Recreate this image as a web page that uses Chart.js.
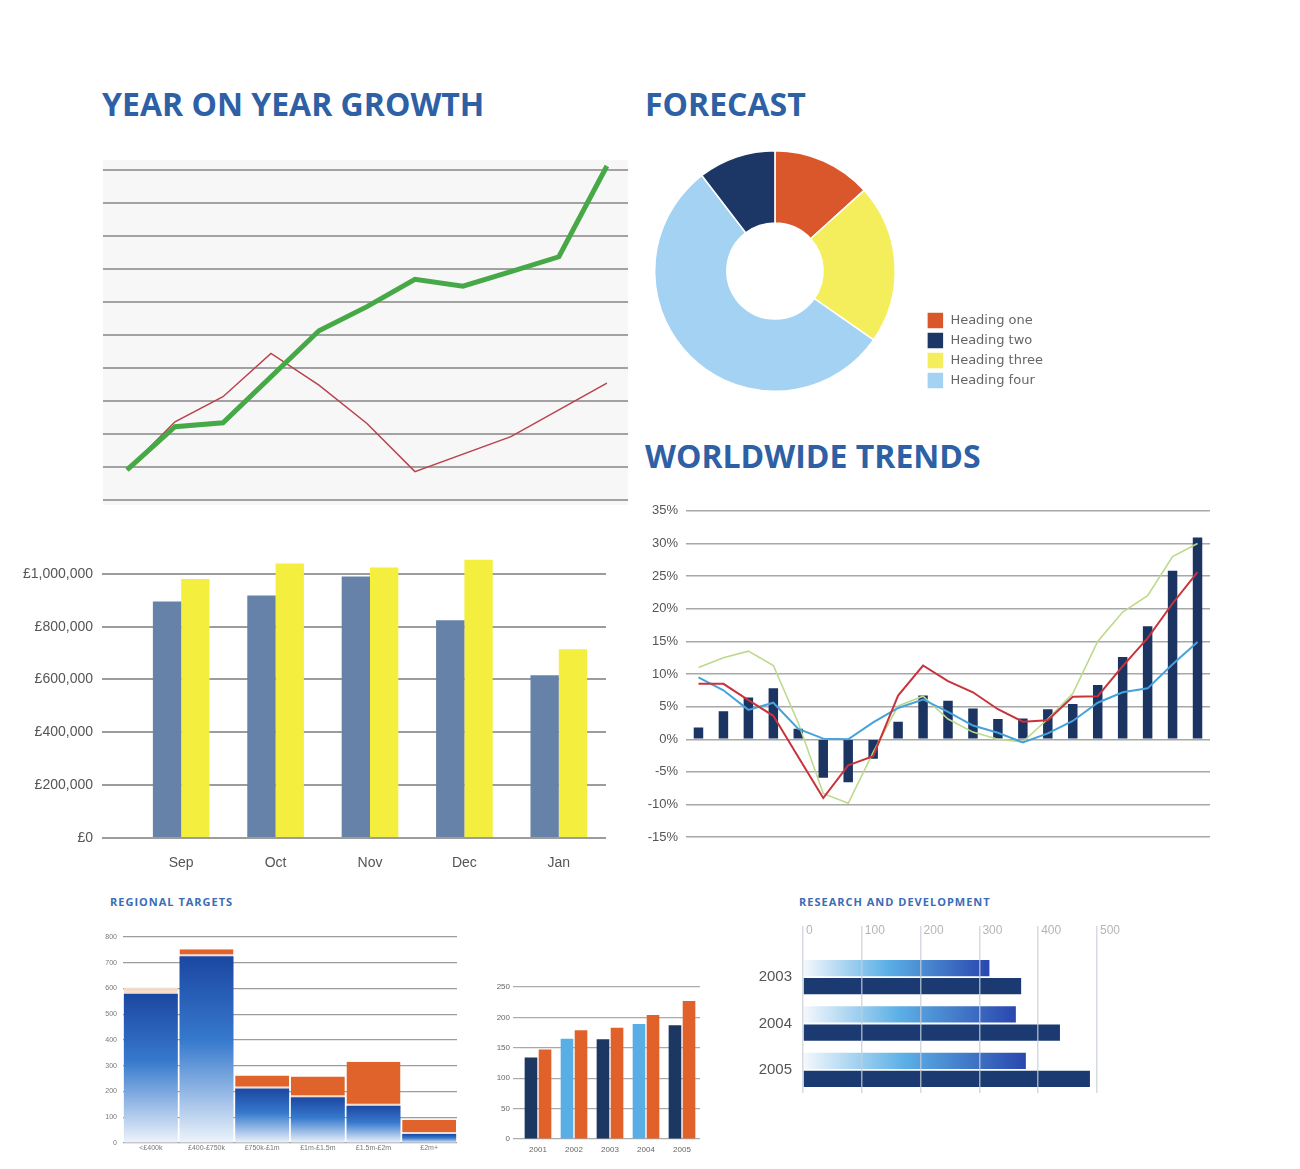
<!DOCTYPE html>
<html>
<head>
<meta charset="utf-8">
<title>Business charts</title>
<style>
html, body { margin: 0; padding: 0; background: #fff; }
#page { position: relative; width: 1300px; height: 1169px; overflow: hidden; }
.box { position: absolute; }
.big { position: absolute; font: 700 32px 'Open Sans'; line-height: 32px; color: #2d60a4; white-space: nowrap; }
.small { position: absolute; font: 700 11px 'Open Sans'; line-height: 11px; color: #3a6db5; letter-spacing: 1px; white-space: nowrap; }
</style>
</head>
<body>
<div id="page">
  <div class="big" style="left:102px; top:88px;">YEAR ON YEAR GROWTH</div>
  <div class="big" style="left:645px; top:88px;">FORECAST</div>
  <div class="big" style="left:645px; top:440px;">WORLDWIDE TRENDS</div>
  <div class="small" style="left:110px; top:896px;">REGIONAL TARGETS</div>
  <div class="small" style="left:799px; top:896px;">RESEARCH AND DEVELOPMENT</div>

  <div class="box" style="left:103px; top:160px; width:525px; height:345px; background:#f7f7f7;"><canvas id="growth"></canvas></div>
  <div class="box" style="left:626px; top:150px; width:427px; height:242px;"><canvas id="forecast"></canvas></div>
  <div class="box" style="left:640px; top:495px; width:585px; height:358px;"><canvas id="trends"></canvas></div>
  <div class="box" style="left:0px; top:530px; width:620px; height:350px;"><canvas id="months"></canvas></div>
  <div class="box" style="left:100px; top:925px; width:365px; height:235px;"><canvas id="regional"></canvas></div>
  <div class="box" style="left:480px; top:975px; width:235px; height:185px;"><canvas id="yearly"></canvas></div>
  <div class="box" style="left:750px; top:915px; width:380px; height:190px;"><canvas id="research"></canvas></div>
</div>

<script src="https://cdn.jsdelivr.net/npm/chart.js"></script>
<script>
  // year on year growth (x = step along the axis)
  const growthX = [0, 1, 2, 4, 5, 6, 7, 8, 9, 10];
  const growthGreen = [0.91, 2.22, 2.34, 5.13, 5.86, 6.69, 6.48, 6.92, 7.37, 10.12];
  const redX = [0, 1, 2, 3, 4, 5, 6, 8, 9, 10];
  const growthRed = [0.91, 2.37, 3.13, 4.44, 3.48, 2.32, 0.86, 1.92, 2.73, 3.54];

  // forecast
  const forecastLabels = ['Heading one', 'Heading two', 'Heading three', 'Heading four'];
  const forecastValues = [13.3, 10.4, 21.4, 54.9];
  const forecastColors = ['#d9572b', '#1c3766', '#f5ee5c', '#a3d2f2'];
  const ringOrder = [0, 2, 3, 1]; // clockwise from the top

  // worldwide trends
  const trendPeriods = ['1','2','3','4','5','6','7','8','9','10','11','12','13','14','15','16','17','18','19','20','21'];
  const trendBars = [1.8, 4.3, 6.4, 7.8, 1.6, -5.9, -6.6, -3.0, 2.7, 6.7, 5.9, 4.7, 3.1, 3.2, 4.6, 5.4, 8.3, 12.6, 17.3, 25.8, 30.9];
  const trendRed = [8.5, 8.5, 6.0, 3.6, -2.7, -9.0, -4.0, -2.6, 6.7, 11.3, 8.9, 7.2, 4.6, 2.7, 2.9, 6.5, 6.6, 11.2, 15.5, 20.8, 25.6];
  const trendBlue = [9.5, 7.5, 4.5, 5.6, 1.6, 0.1, 0.0, 2.6, 4.8, 6.1, 4.2, 2.1, 1.0, -0.5, 0.9, 2.8, 5.6, 7.2, 7.8, 11.5, 14.9];
  const trendGreen = [11.0, 12.5, 13.5, 11.3, 2.5, -8.3, -9.8, -2.0, 5.1, 6.6, 3.1, 1.1, 0.0, -0.4, 3.1, 7.0, 15.0, 19.5, 22.0, 28.0, 30.0];

  // monthly takings
  const months = ['Sep', 'Oct', 'Nov', 'Dec', 'Jan'];
  const monthBlue = [895000, 918000, 990000, 824000, 616000];
  const monthYellow = [980000, 1039000, 1024000, 1053000, 714000];
  const moneyTicks = [0, 200000, 400000, 600000, 800000, 1000000];

  // regional targets
  const regions = ['<£400k', '£400-£750k', '£750k-£1m', '£1m-£1.5m', '£1.5m-£2m', '£2m+'];
  const regionBase = [580, 725, 212, 178, 145, 35];
  const regionTop = [24, 27, 50, 80, 171, 55];

  // small yearly bars
  const years = ['2001', '2002', '2003', '2004', '2005'];
  const yearFirst = [134, 165, 164, 189, 187];
  const yearSecond = [147, 179, 183, 204, 227];

  // research and development
  const rdYears = ['2003', '2004', '2005'];
  const rdLight = [317, 362, 379];
  const rdDark = [371, 437, 488];

  Chart.defaults.animation = false;
  Chart.defaults.responsive = true;
  Chart.defaults.maintainAspectRatio = false;
  Chart.defaults.font.family = 'Liberation Sans';
  Chart.defaults.plugins.tooltip.enabled = false;

  const noLegend = { legend: { display: false } };

  new Chart(document.getElementById('growth'), {
    type: 'line',
    data: {
      datasets: [{
        data: growthX.map((x, i) => ({ x: x, y: growthGreen[i] })),
        borderColor: '#46a846',
        borderWidth: 5,
        clip: 12
      }, {
        data: redX.map((x, i) => ({ x: x, y: growthRed[i] })),
        borderColor: '#b9434d',
        borderWidth: 1.5,
        clip: 12
      }]
    },
    options: {
      layout: { padding: { top: 10, bottom: 5 } },
      plugins: noLegend,
      elements: { point: { radius: 0 }, line: { tension: 0 } },
      scales: {
        x: { type: 'linear', min: -0.5, max: 10.44, display: false },
        y: {
          min: 0, max: 10,
          ticks: { stepSize: 1, display: false },
          grid: { color: '#a2a2a2', lineWidth: 2, drawTicks: false },
          border: { display: false },
          afterFit: s => { s.width = 0; }
        }
      }
    }
  });

  new Chart(document.getElementById('forecast'), {
    type: 'doughnut',
    data: {
      labels: ringOrder.map(i => forecastLabels[i]),
      datasets: [{
        data: ringOrder.map(i => forecastValues[i]),
        backgroundColor: ringOrder.map(i => forecastColors[i]),
        borderColor: '#ffffff',
        borderWidth: 1.5
      }]
    },
    options: {
      cutout: '40%',
      plugins: {
        legend: {
          position: 'right',
          align: 'end',
          labels: {
            boxWidth: 17, boxHeight: 17, padding: 3,
            color: '#666',
            font: { family: 'DejaVu Sans', size: 13 },
            sort: (a, b) => ringOrder[a.index] - ringOrder[b.index]
          }
        }
      }
    }
  });

  new Chart(document.getElementById('trends'), {
    data: {
      labels: trendPeriods,
      datasets: [
        { type: 'line', data: trendRed, borderColor: '#c9333b', borderWidth: 2, order: 1 },
        { type: 'line', data: trendBlue, borderColor: '#45a2da', borderWidth: 2, order: 2 },
        { type: 'line', data: trendGreen, borderColor: '#bcd98c', borderWidth: 1.6, order: 3 },
        { type: 'bar', data: trendBars, backgroundColor: '#1b3461', barPercentage: 0.38, categoryPercentage: 1, order: 4 }
      ]
    },
    options: {
      layout: { padding: { top: 13, right: 15, bottom: 7 } },
      plugins: noLegend,
      elements: { point: { radius: 0 }, line: { tension: 0 } },
      scales: {
        x: { display: false },
        y: {
          min: -15, max: 35,
          ticks: { stepSize: 5, callback: v => v + '%', color: '#555', font: { size: 13 }, padding: 8 },
          grid: { color: '#a8a8a8', lineWidth: 1.5, drawTicks: false },
          border: { display: false },
          afterFit: s => { s.width = 46; }
        }
      }
    }
  });

  new Chart(document.getElementById('months'), {
    type: 'bar',
    data: {
      labels: months,
      datasets: [
        { data: monthBlue, backgroundColor: '#6682a9' },
        { data: monthYellow, backgroundColor: '#f4ef3e' }
      ]
    },
    options: {
      layout: { padding: { top: 0, right: 14 } },
      plugins: noLegend,
      datasets: { bar: { categoryPercentage: 0.6, barPercentage: 1 } },
      scales: {
        x: {
          grid: { display: false, drawTicks: false },
          border: { display: false },
          ticks: { color: '#555', font: { size: 14 }, padding: 17 },
          afterFit: s => { s.height = 42; }
        },
        y: {
          min: 0, max: 1100000,
          afterBuildTicks: s => { s.ticks = moneyTicks.map(v => ({ value: v })); },
          ticks: { color: '#555', font: { size: 14 }, padding: 9,
            callback: v => '£' + v.toLocaleString('en-GB') },
          grid: { color: '#9c9c9c', lineWidth: 2, tickLength: 32 },
          border: { display: false },
          afterFit: s => { s.width = 134; }
        }
      }
    }
  });

  function fadeDown(ctx) {
    const chart = ctx.chart;
    if (!chart.chartArea || ctx.type !== 'data') return '#2b5fb8';
    const y = chart.scales.y;
    const g = chart.ctx.createLinearGradient(0, y.getPixelForValue(ctx.raw), 0, y.getPixelForValue(0));
    g.addColorStop(0, '#1c47a1');
    g.addColorStop(0.45, '#3679cd');
    g.addColorStop(1, '#eef4fb');
    return g;
  }

  new Chart(document.getElementById('regional'), {
    type: 'bar',
    data: {
      labels: regions,
      datasets: [
        { data: regionBase, backgroundColor: fadeDown },
        { data: regionTop, backgroundColor: ['#f2d9c8', '#e0632c', '#e0632c', '#e0632c', '#e0632c', '#e0632c'],
          borderColor: '#f5dccb', borderWidth: { bottom: 2 }, borderSkipped: false }
      ]
    },
    options: {
      layout: { padding: { top: 12, right: 8 } },
      plugins: noLegend,
      datasets: { bar: { categoryPercentage: 1, barPercentage: 0.97 } },
      scales: {
        x: {
          stacked: true,
          grid: { display: false, drawTicks: false },
          border: { display: false },
          ticks: { color: '#777', font: { size: 7 }, padding: 1, autoSkip: false, maxRotation: 0 },
          afterFit: s => { s.height = 17; }
        },
        y: {
          stacked: true,
          min: 0, max: 800,
          ticks: { stepSize: 100, color: '#777', font: { size: 7 }, padding: 6 },
          grid: { color: '#9c9c9c', lineWidth: 1.2, drawTicks: false },
          border: { display: false },
          afterFit: s => { s.width = 23; }
        }
      }
    }
  });

  new Chart(document.getElementById('yearly'), {
    type: 'bar',
    data: {
      labels: years,
      datasets: [
        { data: yearFirst, backgroundColor: ['#1d3763', '#5aaee6', '#1d3763', '#5aaee6', '#1d3763'] },
        { data: yearSecond, backgroundColor: '#e0622a' }
      ]
    },
    options: {
      layout: { padding: { top: 12, right: 15 } },
      plugins: noLegend,
      datasets: { bar: { categoryPercentage: 0.78, barPercentage: 0.9 } },
      scales: {
        x: {
          grid: { display: false, drawTicks: false },
          border: { display: false },
          ticks: { color: '#666', font: { size: 8 }, padding: 6 },
          afterFit: s => { s.height = 21; }
        },
        y: {
          min: 0, max: 250,
          ticks: { stepSize: 50, color: '#666', font: { size: 8 }, padding: 3 },
          grid: { color: '#aaaaaa', lineWidth: 1.2, tickLength: 7 },
          border: { display: false },
          afterFit: s => { s.width = 40; }
        }
      }
    }
  });

  function fadeRight(ctx) {
    const chart = ctx.chart;
    if (!chart.chartArea || ctx.type !== 'data') return '#3b6cc4';
    const x = chart.scales.x;
    const g = chart.ctx.createLinearGradient(x.getPixelForValue(0), 0, x.getPixelForValue(ctx.raw), 0);
    g.addColorStop(0, '#f5f8fc');
    g.addColorStop(0.45, '#5cb0e6');
    g.addColorStop(1, '#2a47ae');
    return g;
  }

  new Chart(document.getElementById('research'), {
    type: 'bar',
    data: {
      labels: rdYears,
      datasets: [
        { data: rdLight, backgroundColor: fadeRight },
        { data: rdDark, backgroundColor: '#1b3a72' }
      ]
    },
    options: {
      indexAxis: 'y',
      layout: { padding: { right: 33, bottom: 5 } },
      plugins: noLegend,
      datasets: { bar: { categoryPercentage: 0.78, barPercentage: 0.9 } },
      scales: {
        x: {
          position: 'top',
          min: 0, max: 500,
          ticks: { stepSize: 100, align: 'start', labelOffset: 3, padding: -12, color: '#b5b5b5', font: { size: 12 } },
          grid: { color: 'rgba(200,205,215,0.75)', lineWidth: 1.5, tickLength: 28, z: 1 },
          border: { display: false },
          afterFit: s => { s.height = 39; }
        },
        y: {
          grid: { display: false },
          border: { display: false },
          ticks: { color: '#555', font: { size: 15 }, padding: 3 },
          afterFit: s => { s.width = 53; }
        }
      }
    }
  });
</script>
</body>
</html>
